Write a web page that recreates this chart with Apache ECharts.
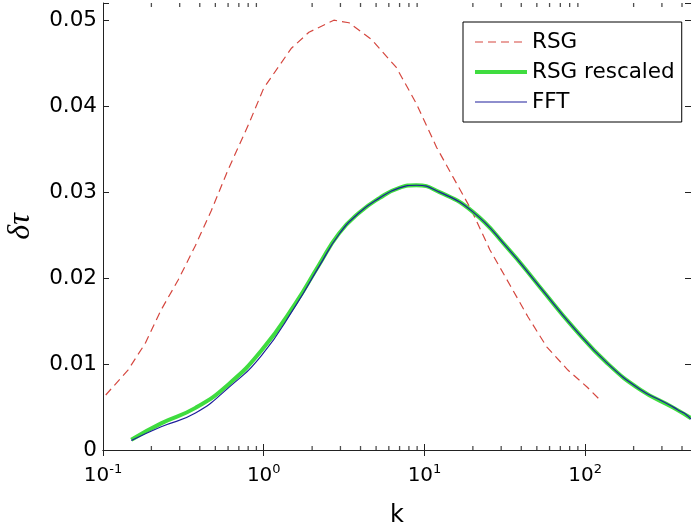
<!DOCTYPE html>
<html>
<head>
<meta charset="utf-8">
<script src="https://cdn.jsdelivr.net/npm/echarts@6/dist/echarts.min.js"></script>
<style>
html,body{margin:0;padding:0;background:#fff;}
#c{width:691px;height:531px;}
</style>
</head>
<body>
<div id="c"></div>
<script>
// ---- data ----
const xMin = 0.1, xMax = 455;
const yMin = 0, yMax = 0.052, yStep = 0.01;

const rsgK   = [0.104, 0.143, 0.183, 0.23, 0.294, 0.376, 0.473, 0.60, 0.81, 1.0, 1.48, 1.91, 2.73, 3.39, 4.72, 6.68, 8.9, 11.9, 15.0, 19.6, 25.5, 34, 44, 57.6, 78, 103, 124];
const rsgVal = [0.0064, 0.0093, 0.0124, 0.0163, 0.0198, 0.0238, 0.0279, 0.0326, 0.0380, 0.0421, 0.0467, 0.0486, 0.0500, 0.0497, 0.0477, 0.0445, 0.0403, 0.0352, 0.0318, 0.0279, 0.0233, 0.0192, 0.0155, 0.0120, 0.0093, 0.0073, 0.0058];

const resK   = [0.15, 0.23, 0.376, 0.60, 0.97, 1.58, 2.2, 2.94, 3.92, 5.24, 6.98, 8.9, 12.4, 20, 32.5, 52, 84, 137, 221, 355, 455];
const resVal = [0.0012, 0.0031, 0.0049, 0.0076, 0.0116, 0.0171, 0.0215, 0.0252, 0.0276, 0.0293, 0.0305, 0.0308, 0.0300, 0.0277, 0.0236, 0.0190, 0.0143, 0.0101, 0.0070, 0.0049, 0.0037];

const fftK   = [0.15, 0.23, 0.376, 0.60, 0.97, 1.58, 2.2, 2.94, 3.92, 5.24, 6.98, 8.9, 12.4, 20, 32.5, 52, 84, 137, 221, 300, 330, 360, 390, 420, 455];
const fftVal = [0.0011, 0.0027, 0.0043, 0.0072, 0.0110, 0.0168, 0.0213, 0.0251, 0.0276, 0.0293, 0.0305, 0.0308, 0.0300, 0.0277, 0.0236, 0.0190, 0.0143, 0.0101, 0.0070, 0.0057, 0.0053, 0.0049, 0.0045, 0.0042, 0.0036];

const minorTicks = [0.2,0.3,0.4,0.5,0.6,0.7,0.8,0.9, 2,3,4,5,6,7,8,9, 20,30,40,50,60,70,80,90, 200,300,400];

const names = ['RSG', 'RSG rescaled', 'FFT'];
const colors = ['#d5473f', '#3fdc3f', '#1e1e9c'];

// ---- chart ----
const pair = (xs, ys) => xs.map((x, i) => [x, ys[i]]);
const FONT = 'DejaVu Sans';
const axisCol = '#222';

const chart = echarts.init(document.getElementById('c'), null, {renderer: 'canvas'});

const xLabel = v => {
  const l = Math.log10(v), e = Math.round(l);
  if (Math.abs(l - e) > 1e-6) return '';
  return '{b|10}{s|' + e + '}';
};
const yLabel = v => {
  const n = v / yStep;
  if (Math.abs(n - Math.round(n)) > 1e-6) return '';
  return v === 0 ? '0' : v.toFixed(2);
};

const commonX = {
  type: 'log', logBase: 10, min: xMin, max: xMax,
  splitLine: {show: false},
  axisLine: {show: true, lineStyle: {color: axisCol, width: 1}},
  axisTick: {show: true, inside: true, length: 6, lineStyle: {color: axisCol}},
  minorTick: {show: false}
};
const commonY = {
  type: 'value', min: yMin, max: yMax, interval: yStep,
  splitLine: {show: false},
  axisLine: {show: true, lineStyle: {color: axisCol, width: 1}},
  axisTick: {show: true, inside: true, length: 6, lineStyle: {color: axisCol}}
};

const tickSeries = (yv, off) => ({
  type: 'scatter', silent: true, clip: false, xAxisIndex: 0, yAxisIndex: 0,
  symbol: 'rect', symbolSize: [1.3, 4], symbolOffset: [0, off],
  itemStyle: {color: axisCol}, animation: false, z: 5,
  data: minorTicks.map(x => [x, yv])
});

chart.setOption({
  animation: false,
  backgroundColor: '#fff',
  grid: {left: 103, right: 0, top: 3, bottom: 81, containLabel: false, outerBoundsMode: 'none'},
  xAxis: [
    Object.assign({}, commonX, {
      position: 'bottom',
      name: 'k', nameLocation: 'middle', nameGap: 54,
      nameTextStyle: {fontFamily: FONT, fontSize: 24, color: '#000'},
      axisLabel: {
        formatter: xLabel, margin: 13, color: '#000',
        rich: {
          b: {fontFamily: FONT, fontSize: 20, color: '#000'},
          s: {fontFamily: FONT, fontSize: 13, color: '#000', padding: [0, 0, 12, 0]}
        }
      }
    }),
    Object.assign({}, commonX, {position: 'top', axisLabel: {show: false}})
  ],
  yAxis: [
    Object.assign({}, commonY, {
      position: 'left',
      name: 'δτ', nameLocation: 'middle', nameGap: 66, nameRotate: 90,
      nameTextStyle: {fontFamily: 'Liberation Serif', fontStyle: 'italic', fontSize: 32, color: '#000'},
      axisLabel: {formatter: yLabel, margin: 6, fontFamily: FONT, fontSize: 21.5, color: '#000'}
    }),
    Object.assign({}, commonY, {position: 'right', axisLabel: {show: false}, axisLine: {show: false}})
  ],
  legend: {
    data: [
      {name: names[0], itemStyle: {opacity: 0}, lineStyle: {width: 1.2, type: [8, 5], color: colors[0]}},
      {name: names[1], itemStyle: {opacity: 0}, lineStyle: {width: 4, color: colors[1]}},
      {name: names[2], itemStyle: {opacity: 0}, lineStyle: {width: 1.2, color: colors[2]}}
    ],
    orient: 'vertical',
    left: 463, top: 22,
    padding: [9, 7, 9, 10],
    itemGap: 8,
    itemWidth: 52, itemHeight: 20,
    itemStyle: {opacity: 0},
    borderColor: '#000', borderWidth: 1, borderRadius: 0,
    backgroundColor: '#fff',
    textStyle: {fontFamily: FONT, fontSize: 21.5, color: '#000'}
  },
  series: [
    {
      name: names[0], type: 'line', data: pair(rsgK, rsgVal),
      symbol: 'none', showSymbol: false, smooth: false, z: 2,
      lineStyle: {color: colors[0], width: 1.2, type: [8, 5]},
      itemStyle: {color: colors[0]}
    },
    {
      name: names[1], type: 'line', data: pair(resK, resVal),
      symbol: 'none', showSymbol: false, smooth: true, z: 3,
      lineStyle: {color: colors[1], width: 4},
      itemStyle: {color: colors[1]}
    },
    {
      name: names[2], type: 'line', data: pair(fftK, fftVal),
      symbol: 'none', showSymbol: false, smooth: true, z: 4,
      lineStyle: {color: colors[2], width: 1.2},
      itemStyle: {color: colors[2]}
    },
    tickSeries(yMin, -2),
    tickSeries(yMax, 2)
  ]
});
</script>
</body>
</html>
